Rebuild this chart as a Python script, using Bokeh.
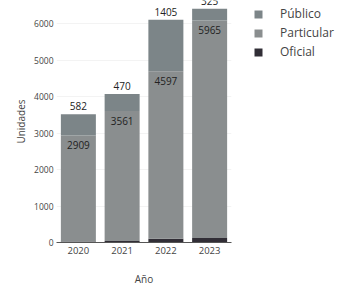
from bokeh.plotting import figure
from bokeh.models import Range1d, FixedTicker, Legend, LegendItem, ColumnDataSource
from bokeh.layouts import row
from bokeh.embed import file_html
from bokeh.resources import INLINE
from bokeh.core.properties import value

years = ["2020", "2021", "2022", "2023"]
oficial = [25, 40, 100, 120]
particular = [2909, 3561, 4597, 5965]
publico = [582, 470, 1405, 325]
y_ticks = [0, 1000, 2000, 3000, 4000, 5000, 6000]

colors = {"Oficial": "#312e36", "Particular": "#8a8e8f", "Público": "#7c8588"}
FONT = "Open Sans"

data = {"years": years, "Oficial": oficial, "Particular": particular, "Público": publico}
src = ColumnDataSource(data)

p = figure(x_range=years, y_range=Range1d(0, 6633), width=240, height=288,
           output_backend="svg", toolbar_location=None,
           min_border_left=56, min_border_right=9, min_border_top=0, min_border_bottom=45)
p.outline_line_color = None
p.background_fill_color = "white"

stack = ["Oficial", "Particular", "Público"]
rs = p.vbar_stack(stack, x="years", width=0.8, source=src,
                  color=[colors[s] for s in stack], line_color=None)

# labels
part_top = [o + pa for o, pa in zip(oficial, particular)]
tot_top = [o + pa + pu for o, pa, pu in zip(oficial, particular, publico)]
lab_src = ColumnDataSource(dict(x=years, yp=part_top, yt=tot_top,
                                tp=[str(v) for v in particular],
                                tt=[str(v) for v in publico]))
p.text(x="x", y="yp", text="tp", source=lab_src, text_align="center", text_baseline="middle",
       y_offset=10, text_font=value(FONT), text_font_size="10px", text_color="#222222")
p.text(x="x", y="yt", text="tt", source=lab_src, text_align="center", text_baseline="middle",
       y_offset=-8, text_font=value(FONT), text_font_size="10px", text_color="#222222")

# axes
p.yaxis.ticker = FixedTicker(ticks=y_ticks)
p.yaxis.axis_line_color = None
p.yaxis.major_tick_line_color = None
p.yaxis.major_tick_out = 0
p.yaxis.minor_tick_line_color = None
p.yaxis.major_label_standoff = 3
p.yaxis.major_label_text_font = FONT
p.yaxis.major_label_text_font_size = "8.5px"
p.yaxis.major_label_text_color = "#444444"
p.yaxis.axis_label = "Unidades"
p.yaxis.axis_label_text_font = FONT
p.yaxis.axis_label_text_font_size = "10px"
p.yaxis.axis_label_text_font_style = "normal"
p.yaxis.axis_label_text_color = "#444444"
p.yaxis.axis_label_standoff = 3

p.xaxis.axis_line_color = "#555555"
p.xaxis.major_tick_line_color = None
p.xaxis.major_tick_out = 0
p.xaxis.major_label_standoff = 4
p.xaxis.major_label_text_font = FONT
p.xaxis.major_label_text_font_size = "9.5px"
p.xaxis.major_label_text_color = "#444444"
p.xaxis.axis_label = "Año"
p.xaxis.axis_label_text_font = FONT
p.xaxis.axis_label_text_font_size = "10px"
p.xaxis.axis_label_text_font_style = "normal"
p.xaxis.axis_label_text_color = "#444444"
p.xaxis.axis_label_standoff = 15

p.xgrid.grid_line_color = None
p.ygrid.grid_line_color = "#f3f3f3"

# legend panel (separate figure so the legend sits outside the bars' frame)
q = figure(width=103, height=288, x_range=Range1d(0, 1), y_range=Range1d(0, 1),
           output_backend="svg", toolbar_location=None,
           min_border_left=8, min_border_right=0, min_border_top=0, min_border_bottom=0)
q.axis.visible = False
q.grid.visible = False
q.outline_line_color = None
legend_names = ["Público", "Particular", "Oficial"]
items = []
for name in legend_names:
    # swatch-only renderer: zero-height bar outside the visible range
    r = q.vbar(x=[2], top=[0], width=1, color=colors[name], line_color=None)
    items.append(LegendItem(label=name, renderers=[r]))
legend = Legend(items=items, location="top_left", glyph_width=10, glyph_height=10,
                spacing=2, padding=0, margin=5, label_standoff=17,
                border_line_color=None, background_fill_alpha=0,
                label_text_font=FONT, label_text_font_size="12px", label_text_color="#444444")
q.add_layout(legend)

layout = row(p, q)
open("out.html", "w").write(file_html(layout, INLINE))
